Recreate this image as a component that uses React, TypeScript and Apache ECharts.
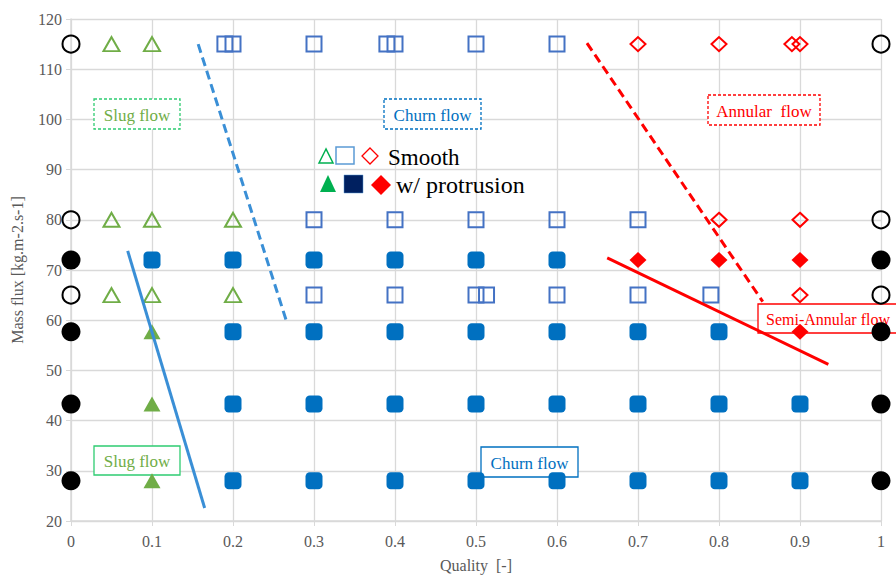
import React, { useEffect, useRef } from "react";
import * as echarts from "echarts";

const openCircles = [[0, 115], [0, 80], [0, 65], [1, 115], [1, 80], [1, 65]];
const filledCircles = [[0, 72], [0, 57.7], [0, 43.3], [0, 28], [1, 72], [1, 57.7], [1, 43.3], [1, 28]];
const openTriangles = [[0.05, 115], [0.1, 115], [0.05, 80], [0.1, 80], [0.2, 80], [0.05, 65], [0.1, 65], [0.2, 65]];
const filledTriangles = [[0.1, 57.7], [0.1, 43.3], [0.1, 28]];
const openSquares = [
  [0.19, 115], [0.2, 115], [0.3, 115], [0.39, 115], [0.4, 115], [0.5, 115], [0.6, 115],
  [0.3, 80], [0.4, 80], [0.5, 80], [0.6, 80], [0.7, 80],
  [0.3, 65], [0.4, 65], [0.5, 65], [0.513, 65], [0.6, 65], [0.7, 65], [0.79, 65],
];
const filledSquares = [
  [0.1, 72], [0.2, 72], [0.3, 72], [0.4, 72], [0.5, 72], [0.6, 72],
  [0.2, 57.7], [0.3, 57.7], [0.4, 57.7], [0.5, 57.7], [0.6, 57.7], [0.7, 57.7], [0.8, 57.7],
  [0.2, 43.3], [0.3, 43.3], [0.4, 43.3], [0.5, 43.3], [0.6, 43.3], [0.7, 43.3], [0.8, 43.3], [0.9, 43.3],
  [0.2, 28], [0.3, 28], [0.4, 28], [0.5, 28], [0.6, 28], [0.7, 28], [0.8, 28], [0.9, 28],
];
const openDiamonds = [[0.7, 115], [0.8, 115], [0.89, 115], [0.9, 115], [0.8, 80], [0.9, 80], [0.9, 65]];
const filledDiamonds = [[0.7, 72], [0.8, 72], [0.9, 72], [0.9, 57.7]];

const blueDashed = [[0.157, 115], [0.267, 59.3]];
const blueSolid = [[0.07, 73.8], [0.165, 22.6]];
const redDashed = [[0.637, 115.2], [0.854, 63.7]];
const redSolid = [[0.662, 72.4], [0.935, 51.2]];

const FONT = "'Liberation Serif', 'Times New Roman', serif";

export default function App() {
  const ref = useRef<HTMLDivElement>(null);
  useEffect(() => {
    const chart = echarts.init(ref.current!, null, { renderer: "svg" });
    const scatter = (name: string, data: number[][], symbol: string, size: any, color: string, filled: boolean, z = 3) => ({
      name,
      type: "scatter",
      data,
      symbol,
      symbolSize: size,
      z,
      itemStyle: filled
        ? { color, borderWidth: 0, opacity: 1 }
        : { color: "rgba(255,255,255,0)", borderColor: color, borderWidth: 2, opacity: 1 },
    });
    const line = (data: number[][], color: string, dashed: boolean) => ({
      type: "line",
      data,
      symbol: "none",
      z: 4,
      lineStyle: { color, width: 3, type: dashed ? [9, 5] : "solid" },
    });
    const boxText = (x: number, y: number, w: number, h: number, text: string, color: string, border: string, dashed: boolean, fs = 17, leftPad = -1) => ({
      type: "group",
      x,
      y,
      z: 1,
      children: [
        {
          type: "rect",
          shape: { x: 0, y: 0, width: w, height: h },
          style: { fill: "#fff", stroke: border, lineWidth: 1.3, lineDash: dashed ? [3, 2] : null },
          z: 1,
        },
        {
          type: "text",
          x: leftPad >= 0 ? leftPad : w / 2,
          y: h / 2 + 1,
          style: { text, fill: color, font: `${fs}px ${FONT}`, align: leftPad >= 0 ? "left" : "center", verticalAlign: "middle" },
          z: 1,
        },
      ],
    });
    chart.setOption({
      animation: false,
      backgroundColor: "#fff",
      grid: { left: 71, right: 15, top: 19, bottom: 55 },
      xAxis: {
        type: "value",
        min: 0,
        max: 1,
        interval: 0.1,
        name: "Quality  [-]",
        nameLocation: "middle",
        nameGap: 36,
        nameTextStyle: { color: "#595959", fontFamily: FONT, fontSize: 16 },
        axisLine: { show: true, lineStyle: { color: "#D9D9D9", width: 1.5 } },
        axisTick: { show: true, length: 5, lineStyle: { color: "#D9D9D9" } },
        axisLabel: { color: "#595959", fontFamily: FONT, fontSize: 16, margin: 12 },
        splitLine: { show: true, lineStyle: { color: "#D9D9D9", width: 1.3 } },
      },
      yAxis: {
        type: "value",
        min: 20,
        max: 120,
        interval: 10,
        name: "Mass flux [kg.m-2.s-1]",
        nameLocation: "middle",
        nameGap: 46,
        nameTextStyle: { color: "#595959", fontFamily: FONT, fontSize: 16 },
        axisLine: { show: true, lineStyle: { color: "#D9D9D9", width: 1.5 } },
        axisTick: { show: true, length: 5, lineStyle: { color: "#D9D9D9" } },
        axisLabel: { color: "#595959", fontFamily: FONT, fontSize: 16, margin: 9 },
        splitLine: { show: true, lineStyle: { color: "#D9D9D9", width: 1.3 } },
      },
      series: [
        line(blueDashed, "#3A8FD6", true),
        line(blueSolid, "#3A8FD6", false),
        line(redDashed, "#FF0000", true),
        line(redSolid, "#FF0000", false),
        scatter("oc", openCircles, "circle", 17, "#000", false, 5),
        scatter("fc", filledCircles, "circle", 19, "#000", true, 5),
        scatter("ot", openTriangles, "triangle", [16, 14], "#70AD47", false),
        scatter("ft", filledTriangles, "triangle", [17, 15], "#70AD47", true),
        scatter("os", openSquares, "rect", 15, "#4472C4", false),
        scatter("fs", filledSquares, "roundRect", 17, "#0070C0", true),
        scatter("od", openDiamonds, "diamond", [15, 14], "#FF0000", false),
        scatter("fd", filledDiamonds, "diamond", [17, 16], "#FF0000", true),
      ],
      graphic: [
        boxText(94, 99, 86, 30, "Slug flow", "#70AD47", "#2ECC71", true),
        boxText(384, 99, 97, 30, "Churn flow", "#0070C0", "#0070C0", true),
        boxText(708, 95, 112, 30, "Annular  flow", "#FF0000", "#FF0000", true),
        boxText(758, 304, 160, 29, "Semi-Annular flow", "#FF0000", "#FF0000", false, 16, 8),
        boxText(94, 446, 86, 29, "Slug flow", "#70AD47", "#2ECC71", false),
        boxText(481, 447, 97, 30, "Churn flow", "#0070C0", "#0070C0", false),
        // legend
        {
          type: "polygon",
          z: 6,
          shape: { points: [[326, 149], [319, 163], [333, 163]] },
          style: { fill: "none", stroke: "#00B050", lineWidth: 1.5 },
        },
        {
          type: "rect",
          z: 6,
          shape: { x: 336, y: 147, width: 18, height: 17 },
          style: { fill: "none", stroke: "#5B9BD5", lineWidth: 1.5 },
        },
        {
          type: "polygon",
          z: 6,
          shape: { points: [[370, 148], [378, 156], [370, 164], [362, 156]] },
          style: { fill: "none", stroke: "#FF0000", lineWidth: 1.3 },
        },
        {
          type: "text",
          z: 6,
          x: 388,
          y: 157,
          style: { text: "Smooth", fill: "#000", font: `23px ${FONT}`, verticalAlign: "middle" },
        },
        {
          type: "polygon",
          z: 6,
          shape: { points: [[328, 175], [320, 192], [336, 192]] },
          style: { fill: "#00B050" },
        },
        {
          type: "rect",
          z: 6,
          shape: { x: 344, y: 175, width: 19, height: 18 },
          style: { fill: "#002060", stroke: "#5B9BD5", lineWidth: 0.5 },
        },
        {
          type: "polygon",
          z: 6,
          shape: { points: [[381, 175], [391, 185], [381, 195], [371, 185]] },
          style: { fill: "#FF0000" },
        },
        {
          type: "text",
          z: 6,
          x: 396,
          y: 185,
          style: { text: "w/ protrusion", fill: "#000", font: `24px ${FONT}`, verticalAlign: "middle" },
        },
      ],
    });
    return () => chart.dispose();
  }, []);
  return <div ref={ref} style={{ width: 896, height: 578, position: "absolute", left: 0, top: 0 }} />;
}
